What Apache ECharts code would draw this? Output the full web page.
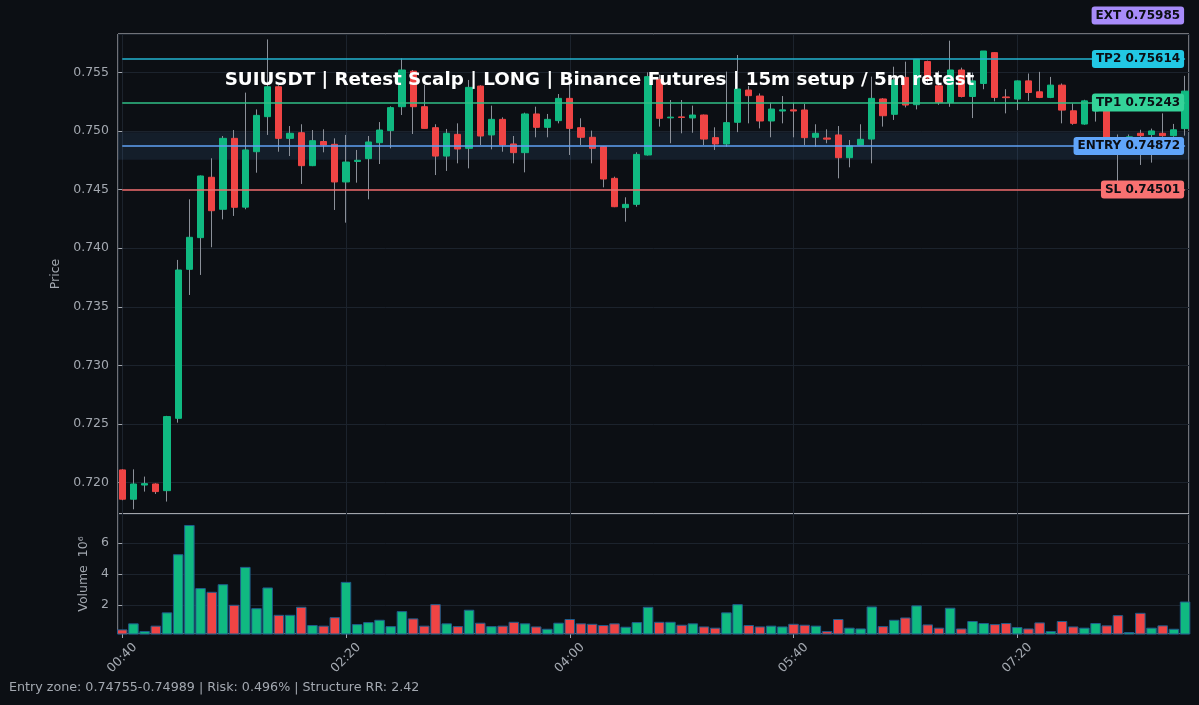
<!DOCTYPE html>
<html>
<head>
<meta charset="utf-8">
<script src="https://cdn.jsdelivr.net/npm/echarts@6/dist/echarts.min.js"></script>
<style>
html,body{margin:0;padding:0;background:#0c0f14;}
#c{width:1199px;height:705px;}
</style>
</head>
<body>
<div id="c"></div>
<script>
// ---------------- DATA ----------------
const times = [
 '00:40','00:45','00:50','00:55',
 '01:00','01:05','01:10','01:15','01:20','01:25','01:30','01:35','01:40','01:45','01:50','01:55',
 '02:00','02:05','02:10','02:15','02:20','02:25','02:30','02:35','02:40','02:45','02:50','02:55',
 '03:00','03:05','03:10','03:15','03:20','03:25','03:30','03:35','03:40','03:45','03:50','03:55',
 '04:00','04:05','04:10','04:15','04:20','04:25','04:30','04:35','04:40','04:45','04:50','04:55',
 '05:00','05:05','05:10','05:15','05:20','05:25','05:30','05:35','05:40','05:45','05:50','05:55',
 '06:00','06:05','06:10','06:15','06:20','06:25','06:30','06:35','06:40','06:45','06:50','06:55',
 '07:00','07:05','07:10','07:15','07:20','07:25','07:30','07:35','07:40','07:45','07:50','07:55',
 '08:00','08:05','08:10','08:15','08:20','08:25','08:30','08:35'
];
const opens = [
 0.72109,0.71859,0.71980,0.71989,0.71932,0.72549,0.73820,0.74090,0.74605,0.74332,
 0.74937,0.74350,0.74823,0.75122,0.75377,0.74937,0.74985,0.74704,0.74910,0.74886,
 0.74565,0.74740,0.74764,0.74900,0.75003,0.75207,0.75510,0.75207,0.75028,0.74786,
 0.74971,0.74852,0.75383,0.74966,0.75099,0.74889,0.74815,0.75145,0.75031,0.75088,
 0.75278,0.75028,0.74946,0.74866,0.74596,0.74346,0.74374,0.74795,0.75440,0.75112,
 0.75120,0.75111,0.75136,0.74943,0.74889,0.75074,0.75349,0.75298,0.75085,0.75170,
 0.75180,0.75179,0.74946,0.74940,0.74966,0.74772,0.74880,0.74931,0.75273,0.75142,
 0.75457,0.75224,0.75592,0.75385,0.75243,0.75520,0.75294,0.75405,0.75668,0.75290,
 0.75272,0.75427,0.75334,0.75286,0.75391,0.75172,0.75059,0.75170,0.75250,0.74900,
 0.74940,0.74980,0.74970,0.74980,0.74960,0.75020
];
const highs = [
 0.72115,0.72114,0.72052,0.71995,0.72570,0.73900,0.74417,0.74620,0.74767,0.74957,
 0.75008,0.75327,0.75184,0.75781,0.75390,0.75042,0.75057,0.75008,0.75014,0.74937,
 0.74966,0.74838,0.74957,0.75076,0.75210,0.75619,0.75520,0.75392,0.75057,0.75017,
 0.75065,0.75435,0.75390,0.75216,0.75116,0.74957,0.75156,0.75207,0.75145,0.75315,
 0.75440,0.75108,0.75003,0.74870,0.74610,0.74434,0.74818,0.75500,0.75480,0.75264,
 0.75264,0.75216,0.75140,0.75031,0.75506,0.75648,0.75383,0.75320,0.75241,0.75298,
 0.75241,0.75230,0.75057,0.75014,0.75042,0.74923,0.75057,0.75463,0.75280,0.75548,
 0.75591,0.75612,0.75600,0.75512,0.75770,0.75540,0.75498,0.75682,0.75670,0.75356,
 0.75430,0.75490,0.75504,0.75461,0.75405,0.75235,0.75266,0.75270,0.75270,0.74970,
 0.74970,0.75010,0.75020,0.75150,0.75060,0.75470
];
const lows = [
 0.71850,0.71773,0.71924,0.71904,0.71839,0.72512,0.73601,0.73772,0.74008,0.74246,
 0.74275,0.74332,0.74644,0.74966,0.74823,0.74786,0.74548,0.74700,0.74818,0.74326,
 0.74218,0.74559,0.74417,0.74718,0.74852,0.75136,0.74974,0.75022,0.74624,0.74659,
 0.74724,0.74681,0.74880,0.74843,0.74823,0.74724,0.74647,0.74946,0.74946,0.75065,
 0.74795,0.74880,0.74724,0.74519,0.74350,0.74226,0.74354,0.74790,0.75037,0.74895,
 0.74980,0.74985,0.74880,0.74838,0.74866,0.74990,0.75065,0.75022,0.74946,0.75065,
 0.74946,0.74880,0.74866,0.74895,0.74596,0.74690,0.74880,0.74724,0.75037,0.75094,
 0.75201,0.75184,0.75410,0.75223,0.75206,0.75286,0.75110,0.75356,0.75252,0.75150,
 0.75178,0.75257,0.75280,0.75280,0.75065,0.75053,0.75053,0.75080,0.74880,0.74570,
 0.74920,0.74710,0.74730,0.74950,0.74950,0.74960
];
const closes = [
 0.71859,0.71989,0.71992,0.71924,0.72564,0.73814,0.74093,0.74616,0.74320,0.74937,
 0.74349,0.74838,0.75133,0.75377,0.74937,0.74980,0.74704,0.74917,0.74880,0.74565,
 0.74735,0.74750,0.74906,0.75008,0.75199,0.75520,0.75207,0.75022,0.74786,0.74980,
 0.74846,0.75372,0.74957,0.75099,0.74880,0.74815,0.75145,0.75031,0.75099,0.75278,
 0.75022,0.74946,0.74852,0.74590,0.74354,0.74374,0.74800,0.75463,0.75108,0.75118,
 0.75115,0.75136,0.74931,0.74889,0.75071,0.75358,0.75301,0.75085,0.75187,0.75180,
 0.75170,0.74943,0.74980,0.74930,0.74772,0.74872,0.74929,0.75278,0.75130,0.75435,
 0.75221,0.75611,0.75451,0.75243,0.75520,0.75294,0.75427,0.75682,0.75286,0.75284,
 0.75427,0.75328,0.75286,0.75391,0.75178,0.75065,0.75257,0.75210,0.74900,0.74860,
 0.74950,0.74960,0.75000,0.74960,0.75010,0.75340
];
const volumes = [
 0.41e6,0.80e6,0.30e6,0.65e6,1.51e6,5.27e6,7.16e6,3.08e6,2.84e6,3.33e6,
 2.00e6,4.45e6,1.78e6,3.12e6,1.35e6,1.35e6,1.87e6,0.69e6,0.65e6,1.20e6,
 3.48e6,0.75e6,0.88e6,1.03e6,0.62e6,1.59e6,1.12e6,0.65e6,2.04e6,0.80e6,
 0.62e6,1.68e6,0.84e6,0.62e6,0.65e6,0.90e6,0.80e6,0.60e6,0.45e6,0.84e6,
 1.08e6,0.80e6,0.77e6,0.69e6,0.80e6,0.58e6,0.88e6,1.87e6,0.90e6,0.90e6,
 0.71e6,0.80e6,0.60e6,0.52e6,1.51e6,2.04e6,0.69e6,0.60e6,0.65e6,0.60e6,
 0.77e6,0.71e6,0.65e6,0.30e6,1.08e6,0.52e6,0.47e6,1.89e6,0.62e6,1.03e6,
 1.18e6,1.96e6,0.73e6,0.52e6,1.81e6,0.47e6,0.95e6,0.82e6,0.75e6,0.82e6,
 0.56e6,0.47e6,0.86e6,0.30e6,0.95e6,0.60e6,0.52e6,0.82e6,0.67e6,1.33e6,
 0.24e6,1.48e6,0.52e6,0.67e6,0.45e6,2.21e6
];
const levelNames  = ['EXT', 'TP2', 'TP1', 'ENTRY', 'SL'];
const levelValues = [0.75985, 0.75614, 0.75243, 0.74872, 0.74501];
const entryZone   = [0.74755, 0.74989];
const titleText  = 'SUIUSDT | Retest Scalp | LONG | Binance Futures | 15m setup / 5m retest';
const footerText = 'Entry zone: 0.74755-0.74989 | Risk: 0.496% | Structure RR: 2.42';

// ---------------- STYLE ----------------
const BG = '#0c0f14';
const UP = '#10b981';
const DOWN = '#ef4444';
const WICK = '#8b9099';
const GRIDC = '#1c232d';
const TEXTC = '#a3a8b0';
const FONT = 'DejaVu Sans';
const levelColors = {EXT:'#a78bfa', TP2:'#22c7e4', TP1:'#34d399', ENTRY:'#60a5fa', SL:'#f87171'};
const levelLineColors = {EXT:'#a78bfa', TP2:'#22b5d0', TP1:'#2fbf86', ENTRY:'#5fa2f5', SL:'#ef6b6b'};

const N = times.length;
const X_MIN = -0.38, X_MAX = N - 1 + 0.35;
const P_MIN = 0.71733, P_MAX = 0.75827;
const V_MIN = 0.11e6, V_MAX = 7.87e6;

const wickData = times.map((t, i) => [i, opens[i], closes[i], lows[i], highs[i]]);
const bodyData = times.map((t, i) => [i, opens[i], closes[i], Math.min(opens[i], closes[i]), Math.max(opens[i], closes[i])]);
const volData = volumes.map((v, i) => ({value: [i, v], itemStyle: {color: closes[i] >= opens[i] ? UP : DOWN}}));

const levelLabelData = levelNames.map((nm, k) => ({
  value: [N - 1, levelValues[k]],
  label: {backgroundColor: levelColors[nm]},
  nameText: nm + ' ' + levelValues[k].toFixed(5)
}));
const levelLines = levelNames
  .map((nm, k) => ({nm, v: levelValues[k]}))
  .filter(o => o.v <= P_MAX && o.v >= P_MIN)
  .map(o => [
    {coord: [0, o.v], lineStyle: {color: levelLineColors[o.nm], width: 1.6, type: 'solid', opacity: 1}},
    {coord: [N - 1, o.v]}
  ]);

const xLabel = v => {
  const i = Math.round(v);
  return (Math.abs(v - i) < 1e-6 && i >= 0 && i < N) ? times[i] : '';
};
const isMult = (v, step) => Math.abs(v / step - Math.round(v / step)) < 1e-6;

const axisTick = {show: true, length: 4, lineStyle: {color: TEXTC, width: 1}};
const splitLine = {show: true, lineStyle: {color: GRIDC, width: 1}};

const chart = echarts.init(document.getElementById('c'), null, {renderer: 'canvas', width: 1199, height: 705});
chart.setOption({
  animation: false,
  backgroundColor: BG,
  textStyle: {fontFamily: FONT},
  title: {
    text: titleText, left: 'center', top: 71, padding: 0, z: 30,
    textStyle: {color: '#ffffff', fontSize: 18.3, fontWeight: 'bold', fontFamily: FONT}
  },
  graphic: [{
    type: 'text', left: 9, top: 681,
    style: {text: footerText, fill: TEXTC, fontSize: 12.7, fontFamily: FONT}
  }],
  grid: [
    {left: 118, top: 34, width: 1071, height: 480, show: true, borderColor: '#d4d7dc', borderWidth: 1, backgroundColor: 'transparent'},
    {left: 118, top: 514, width: 1071, height: 120, show: true, borderColor: '#d4d7dc', borderWidth: 1, backgroundColor: 'transparent'}
  ],
  xAxis: [
    {type: 'value', gridIndex: 0, min: X_MIN, max: X_MAX, minInterval: 20, maxInterval: 20,
     axisLine: {show: false}, axisTick: {show: false}, axisLabel: {show: false}, splitLine},
    {type: 'value', gridIndex: 1, min: X_MIN, max: X_MAX, minInterval: 20, maxInterval: 20,
     axisLine: {show: false}, axisTick, splitLine,
     axisLabel: {formatter: xLabel, rotate: 45, align: 'center', verticalAlign: 'middle', margin: 24,
                 color: TEXTC, fontSize: 12.5, fontFamily: FONT, showMinLabel: false, showMaxLabel: false}}
  ],
  yAxis: [
    {type: 'value', gridIndex: 0, min: P_MIN, max: P_MAX, minInterval: 0.005, maxInterval: 0.005,
     name: 'Price', nameLocation: 'middle', nameGap: 50, nameRotate: 90,
     nameTextStyle: {color: TEXTC, fontSize: 12.5, fontFamily: FONT},
     axisLine: {show: false}, axisTick, splitLine,
     axisLabel: {formatter: v => isMult(v, 0.005) ? v.toFixed(3) : '', color: TEXTC, fontSize: 12.5,
                 fontFamily: FONT, margin: 9, showMinLabel: false, showMaxLabel: false}},
    {type: 'value', gridIndex: 1, min: V_MIN, max: V_MAX, minInterval: 2e6, maxInterval: 2e6,
     name: 'Volume  10\u2076', nameLocation: 'middle', nameGap: 23, nameRotate: 90,
     nameTextStyle: {color: TEXTC, fontSize: 12.5, fontFamily: FONT},
     axisLine: {show: false}, axisTick, splitLine,
     axisLabel: {formatter: v => isMult(v, 2e6) ? String(Math.round(v / 1e6)) : '', color: TEXTC, fontSize: 12.5,
                 fontFamily: FONT, margin: 9, showMinLabel: false, showMaxLabel: false}}
  ],
  series: [
    {
      name: 'wicks', type: 'candlestick', xAxisIndex: 0, yAxisIndex: 0, z: 2,
      data: wickData, barWidth: 1,
      itemStyle: {color: WICK, color0: WICK, borderColor: WICK, borderColor0: WICK, borderWidth: 1},
      markArea: {
        silent: true, z: 1,
        itemStyle: {color: 'rgba(96,165,250,0.10)'},
        data: [[{yAxis: entryZone[0]}, {yAxis: entryZone[1]}]]
      }
    },
    {
      name: 'bodies', type: 'candlestick', xAxisIndex: 0, yAxisIndex: 0, z: 3,
      data: bodyData, barWidth: '60%',
      itemStyle: {color: UP, color0: DOWN, borderColor: UP, borderColor0: DOWN, borderWidth: 1},
      markLine: {
        silent: true, symbol: ['none', 'none'], label: {show: false}, z: 4,
        data: levelLines
      }
    },
    {
      name: 'volume', type: 'bar', xAxisIndex: 1, yAxisIndex: 1,
      data: volData, barWidth: '94%',
      itemStyle: {borderColor: '#1f5d8c', borderWidth: 1}
    },
    {
      name: 'levels', type: 'scatter', xAxisIndex: 0, yAxisIndex: 0, clip: false,
      symbolSize: 0, z: 20, silent: true,
      itemStyle: {opacity: 1},
      data: levelLabelData,
      label: {
        show: true, position: 'left', distance: 1, opacity: 1,
        formatter: p => p.data.nameText,
        color: '#0b0e14', fontWeight: 'bold', fontSize: 12, fontFamily: FONT,
        padding: [3, 4, 2, 4], borderRadius: 3, lineHeight: 13
      }
    }
  ]
});
</script>
</body>
</html>
